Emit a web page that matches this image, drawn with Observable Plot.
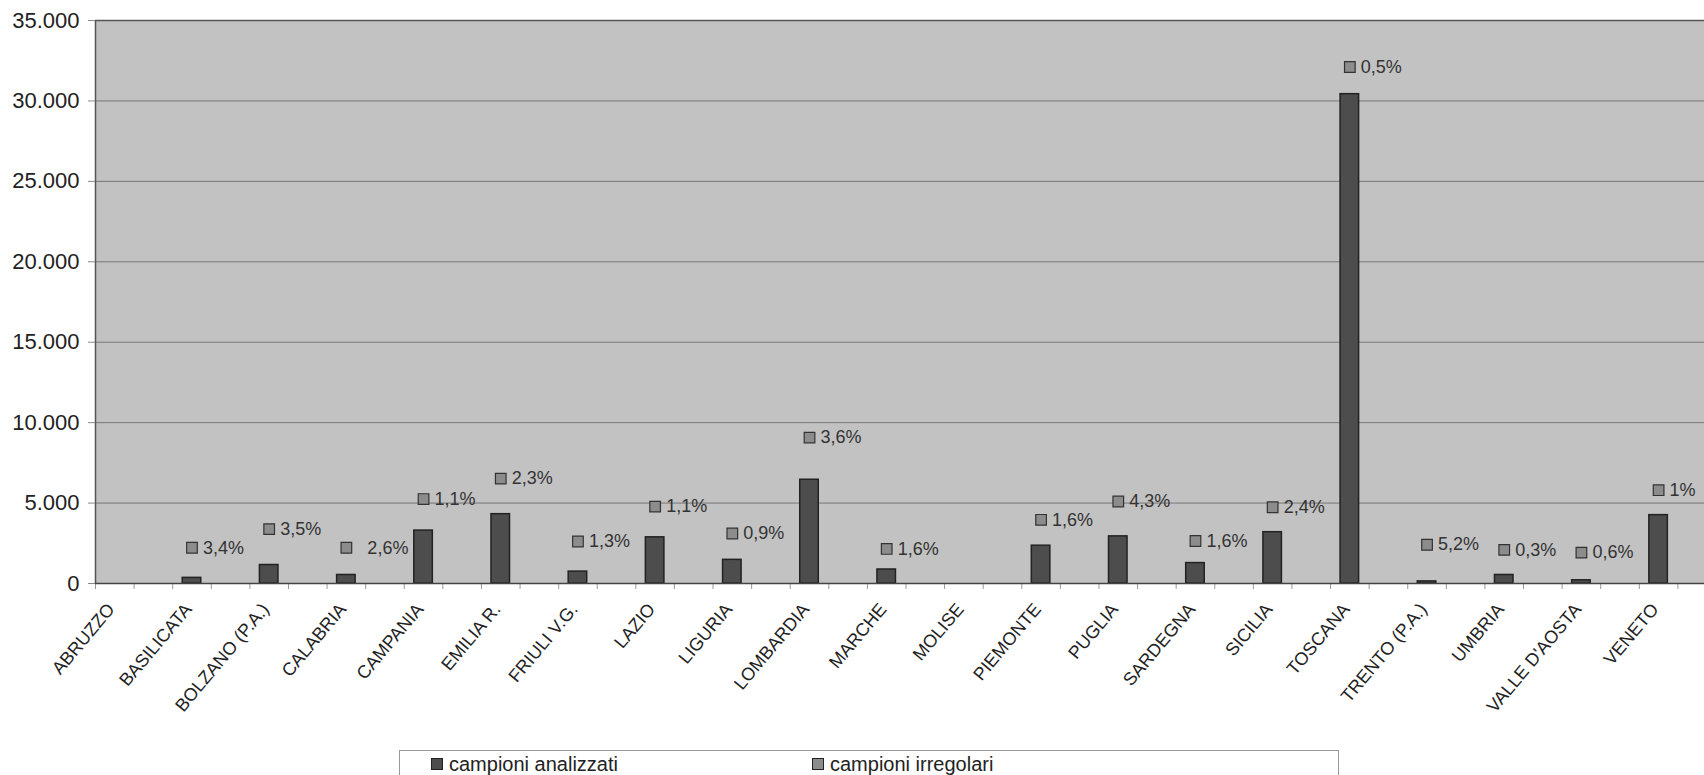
<!DOCTYPE html>
<html>
<head>
<meta charset="utf-8">
<script src="https://cdn.jsdelivr.net/npm/d3@7"></script>
<script src="https://cdn.jsdelivr.net/npm/@observablehq/plot@0.6"></script>
<style>
  html, body { margin: 0; padding: 0; background: #fff; overflow: hidden; }
  body { width: 1704px; height: 775px; font-family: "Liberation Sans", Arial, sans-serif; }
  #chart svg { display: block; }
  #legend {
    position: relative;
    margin-left: 399px;
    margin-top: 6px;
    width: 940px;
    height: 40px;
    border: 1px solid #9a9a9a;
    border-bottom: none;
    box-sizing: border-box;
    font-size: 20px;
    color: #222;
  }
  .item { position: absolute; top: 2px; display: flex; align-items: center; height: 22px; line-height: 22px; }
  .sw { width: 12px; height: 12px; border: 1px solid #222; margin-right: 6px; box-sizing: border-box; }
</style>
</head>
<body>
<div id="chart"></div>
<div id="legend">
  <div class="item" style="left:31px"><span class="sw" style="background:#4d4d4d"></span><span>campioni analizzati</span></div>
  <div class="item" style="left:412px"><span class="sw" style="background:#8c8c8c"></span><span>campioni irregolari</span></div>
</div>
<script>
const regions = ["ABRUZZO","BASILICATA","BOLZANO (P.A.)","CALABRIA","CAMPANIA","EMILIA R.","FRIULI V.G.","LAZIO","LIGURIA","LOMBARDIA","MARCHE","MOLISE","PIEMONTE","PUGLIA","SARDEGNA","SICILIA","TOSCANA","TRENTO (P.A.)","UMBRIA","VALLE D'AOSTA","VENETO"];
const campioniAnalizzati = [0,350,1150,530,3290,4310,740,2870,1470,6450,870,0,2350,2930,1270,3190,30420,130,530,200,4250];
const campioniIrregolariPos = [null,2220,3380,2220,5250,6520,2610,4780,3110,9070,2150,null,3960,5100,2640,4740,32110,2410,2090,1920,5800];
const campioniIrregolariLabel = [null,"3,4%","3,5%","\u00a0\u00a02,6%","1,1%","2,3%","1,3%","1,1%","0,9%","3,6%","1,6%",null,"1,6%","4,3%","1,6%","2,4%","0,5%","5,2%","0,3%","0,6%","1%"];
const yTicks = [0,5000,10000,15000,20000,25000,30000,35000];

const rows = regions.map((r, i) => ({
  region: r,
  slot: 2 * i + 0.5,
  analizzati: campioniAnalizzati[i],
  irr: campioniIrregolariPos[i],
  label: campioniIrregolariLabel[i]
}));
const bars = rows.filter(d => d.analizzati > 0);
const pts = rows.filter(d => d.irr != null);

const it = d3.formatLocale({decimal: ",", thousands: ".", grouping: [3], currency: ["", "€"]});
const fmt = it.format(",");

const chart = Plot.plot({
  width: 1704,
  height: 744,
  marginTop: 20,
  marginBottom: 161,
  marginLeft: 95,
  marginRight: 0,
  style: {fontFamily: "'Liberation Sans', Arial, sans-serif", background: "transparent", overflow: "hidden"},
  x: {type: "linear", domain: [0, 42], range: [95, 1716]},
  y: {domain: [0, 35000]},
  marks: [
    Plot.frame({fill: "#c2c2c2", stroke: null}),
    Plot.gridY(yTicks.filter(t => t > 0 && t < 35000), {stroke: "#777", strokeOpacity: 1, strokeWidth: 1}),
    Plot.ruleY([35000], {stroke: "#555", strokeWidth: 1.5}),
    Plot.ruleX([0], {stroke: "#555", strokeWidth: 1.5}),
    Plot.axisY({ticks: yTicks, tickFormat: fmt, tickSize: 7, tickPadding: 9, fontSize: 22, fill: "#222", stroke: "#888", label: null}),
    Plot.axisX({ticks: d3.range(0, 43), tickSize: 6, tickFormat: () => "", stroke: "#999", label: null}),
    Plot.rect(bars, {x1: d => d.slot - 0.24, x2: d => d.slot + 0.24, y1: 0, y2: "analizzati", fill: "#4d4d4d", stroke: "#222", strokeWidth: 1.5}),
    Plot.ruleY([0], {stroke: "#444", strokeWidth: 1.5}),
    Plot.dot(pts, {x: "slot", y: "irr", symbol: "square", r: 6, fill: "#8c8c8c", stroke: "#333", strokeWidth: 1.2}),
    Plot.text(pts, {x: "slot", y: "irr", text: "label", textAnchor: "start", dx: 11, fontSize: 18, fill: "#333"}),
    Plot.text(rows, {x: "slot", text: "region", frameAnchor: "bottom", rotate: -50, textAnchor: "end", lineAnchor: "top", dx: -9, dy: 18, fontSize: 18, fill: "#222", ariaLabel: "cat-labels"})
  ]
});
document.getElementById("chart").appendChild(chart);
</script>
</body>
</html>
